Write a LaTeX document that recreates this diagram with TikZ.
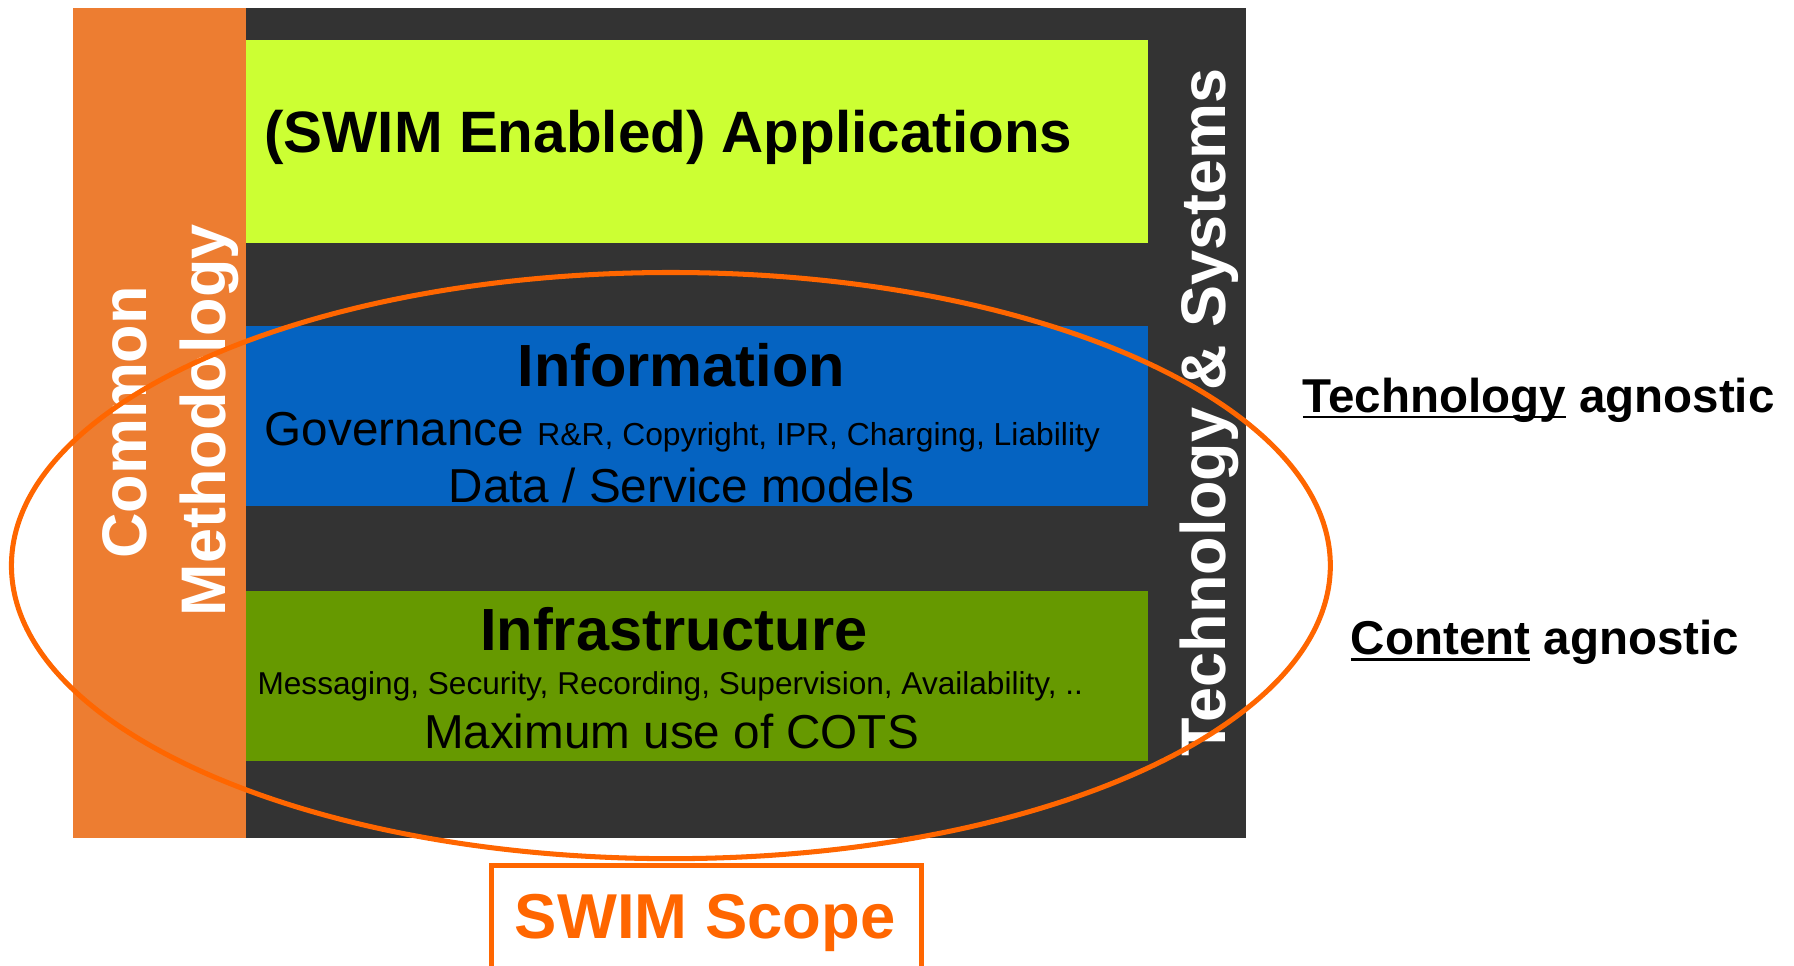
\documentclass[tikz,border=0pt]{standalone}
\usepackage{fontspec}
\setmainfont{Liberation Sans}
\definecolor{darkbg}{HTML}{333333}
\definecolor{stripor}{HTML}{ED7D31}
\definecolor{limebox}{HTML}{CCFF33}
\definecolor{bluebox}{HTML}{0563C1}
\definecolor{greenbox}{HTML}{669900}
\definecolor{scopeor}{HTML}{FF6600}
\begin{document}
\begin{tikzpicture}[x=0.5pt,y=-0.5pt,
  txt/.style={inner sep=0pt, outer sep=0pt, anchor=base},
  head/.style={txt, font=\fontsize{26}{30}\selectfont\bfseries},
  body/.style={txt, font=\fontsize{20.8}{25}\selectfont},
  small/.style={txt, font=\fontsize{13.8}{16}\selectfont},
  vert/.style={txt, rotate=90, text=white, font=\fontsize{27.5}{32}\selectfont\bfseries},
  side/.style={txt, anchor=base west, font=\fontsize{20.75}{25}\selectfont\bfseries},
  uline/.style={line width=1pt},
  scopeline/.style={draw=scopeor, line width=2.2pt},
  scopebox/.style={draw=scopeor, line width=2.2pt}]
\useasboundingbox (0,0) rectangle (1567,843);
% background panels
\fill[darkbg] (215,7) rectangle (1088,732);
\fill[stripor] (64,7) rectangle (215,732);
\fill[limebox] (215,35) rectangle (1003,212);
\fill[bluebox] (215,285) rectangle (1003,442);
\fill[greenbox] (215,516) rectangle (1003,665);
% texts in layers
\node[head, anchor=base west, font=\fontsize{25.5}{30}\selectfont\bfseries] (apps) at (231,133) {(SWIM Enabled) Applications};
\node[head] (info) at (595,338) {Information};
\node[body] (gov) at (596,389) {Governance {\fontsize{13.9}{16}\selectfont R\&R, Copyright, IPR, Charging, Liability}};
\node[body] (data) at (595.5,439) {Data / Service models};
\node[head] (infra) at (588.5,568) {Infrastructure};
\node[small] (msg) at (585.5,607) {Messaging, Security, Recording, Supervision, Availability, ..};
\node[body] (cots) at (586.5,654) {Maximum use of COTS};
% vertical labels
\node[vert] (common) at (128,369) {Common};
\node[vert] (method) at (197,367) {Methodology};
\node[vert] (techsys) at (1070,360) {Technology \& Systems};
% right labels
\node[side] (tech) at (1138,360) {Technology};
\node[side] (agn1) at (tech.base east) {\ agnostic};
\draw[uline] ([yshift=-2pt]tech.base west) -- ([yshift=-2pt]tech.base east);
\node[side] (cont) at (1180,572) {Content};
\node[side] (agn2) at (cont.base east) {\ agnostic};
\draw[uline] ([yshift=-2pt]cont.base west) -- ([yshift=-2pt]cont.base east);
% scope ellipse
\node[draw=none, inner sep=0] (ctr) at (586,494) {};
\draw[scopeline] (ctr) ellipse [x radius=288pt, y radius=128pt];
% scope box
\coordinate (bl) at (429,850);
\coordinate (tl) at (429,756);
\coordinate (tr) at (805,756);
\coordinate (br) at (805,850);
\draw[scopebox] (bl) -- (tl) -- (tr) -- (br);
\node[txt, text=scopeor, font=\fontsize{27.7}{32}\selectfont\bfseries] (scope) at (616,820) {SWIM Scope};
\end{tikzpicture}
\end{document}
